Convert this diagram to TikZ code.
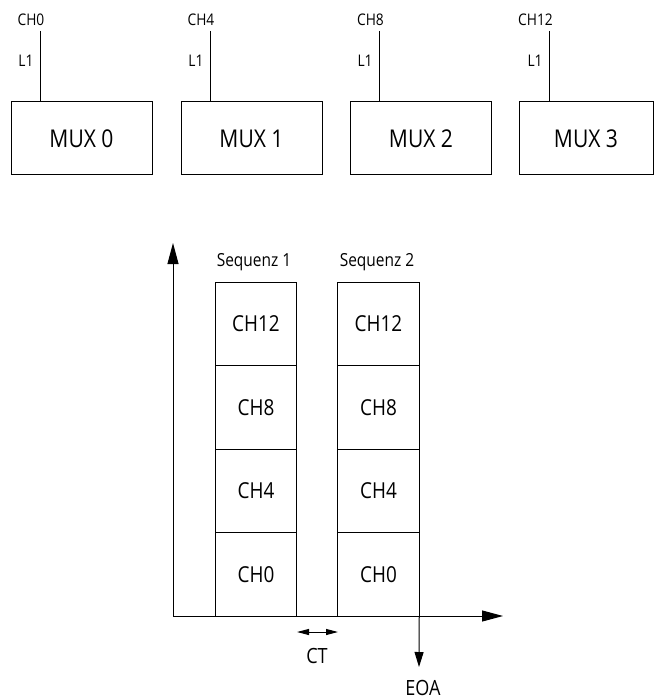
\documentclass[tikz,border=0pt]{standalone}
\usepackage{fontspec}
\setmainfont[FakeStretch=0.86]{Open Sans}
\usetikzlibrary{arrows.meta,positioning}
\tikzset{
  muxbox/.style={draw, line width=1pt, minimum width=141pt, minimum height=73pt, inner sep=0pt, outer sep=0pt, font=\fontsize{24.5}{28}\selectfont},
  cell/.style={draw, line width=1pt, minimum width=81.5pt, minimum height=83.5pt, inner sep=0pt, outer sep=0pt, font=\fontsize{22}{26}\selectfont},
  chlab/.style={font=\fontsize{16}{19}\selectfont, inner sep=0pt, anchor=base},
  seqlab/.style={font=\fontsize{18}{22}\selectfont, inner sep=0pt, anchor=base},
  axlab/.style={font=\fontsize{21}{25}\selectfont, inner sep=0pt, anchor=base},
  wire/.style={line width=1pt},
  axarr/.style={line width=1pt, -{Triangle[length=21pt,width=11pt]}},
  eoaarr/.style={line width=1pt, -{Triangle[length=15pt,width=9pt]}},
  ctarr/.style={line width=1pt, {Triangle[length=12pt,width=6pt]}-{Triangle[length=12pt,width=6pt]}},
}
\begin{document}
\begin{tikzpicture}[x=1pt, y=-1pt]
  \useasboundingbox (0,0) rectangle (654,700);
  % multiplexers
  \node[muxbox] (mux0) at (81.5,138.5) {MUX 0};
  \node[muxbox] (mux1) at (251.5,138.5) {MUX 1};
  \node[muxbox] (mux2) at (421,138.5) {MUX 2};
  \node[muxbox, minimum width=134pt] (mux3) at (586,138.5) {MUX 3};
  % inputs
  \coordinate (in0) at (40,31);
  \coordinate (in1) at (210,31);
  \coordinate (in2) at (379,31);
  \coordinate (in3) at (549,31);
  \draw[wire] (in0) -- (in0 |- mux0.north);
  \draw[wire] (in1) -- (in1 |- mux1.north);
  \draw[wire] (in2) -- (in2 |- mux2.north);
  \draw[wire] (in3) -- (in3 |- mux3.north);
  \node[chlab] (ch0) at (31,26) {CH0};
  \node[chlab] (ch4) at (201,26) {CH4};
  \node[chlab] (ch8) at (370.5,26) {CH8};
  \node[chlab] (ch12) at (535.5,26) {CH12};
  \node[chlab] (l0) at (26,67) {L1};
  \node[chlab] (l1) at (196,67) {L1};
  \node[chlab] (l2) at (365,67) {L1};
  \node[chlab] (l3) at (535,67) {L1};
  % time axes
  \coordinate (orig) at (173,616);
  \coordinate (ytop) at (173,243);
  \coordinate (xend) at (503,616);
  \draw[axarr] (orig) -- (ytop);
  \draw[axarr] (orig) -- (xend);
  % sequence 1
  \node[cell] (s1c0) at (256,574.25) {CH0};
  \node[cell, above=0pt of s1c0] (s1c4) {CH4};
  \node[cell, above=0pt of s1c4] (s1c8) {CH8};
  \node[cell, above=0pt of s1c8] (s1c12) {CH12};
  % sequence 2
  \node[cell] (s2c0) at (378.5,574.25) {CH0};
  \node[cell, above=0pt of s2c0] (s2c4) {CH4};
  \node[cell, above=0pt of s2c4] (s2c8) {CH8};
  \node[cell, above=0pt of s2c8] (s2c12) {CH12};
  \node[seqlab] (seq1) at (254,266) {Sequenz 1};
  \node[seqlab] (seq2) at (377,266) {Sequenz 2};
  % conversion time and end of acquisition
  \coordinate (ctl) at (297,632);
  \coordinate (ctr) at (338,632);
  \draw[ctarr] (ctl) -- (ctr);
  \node[axlab] (ct) at (317,663) {CT};
  \coordinate (eoa) at (419,667);
  \draw[eoaarr] (s2c0.south east) -- (eoa);
  \node[axlab] (eoalab) at (423,695) {EOA};
\end{tikzpicture}
\end{document}
